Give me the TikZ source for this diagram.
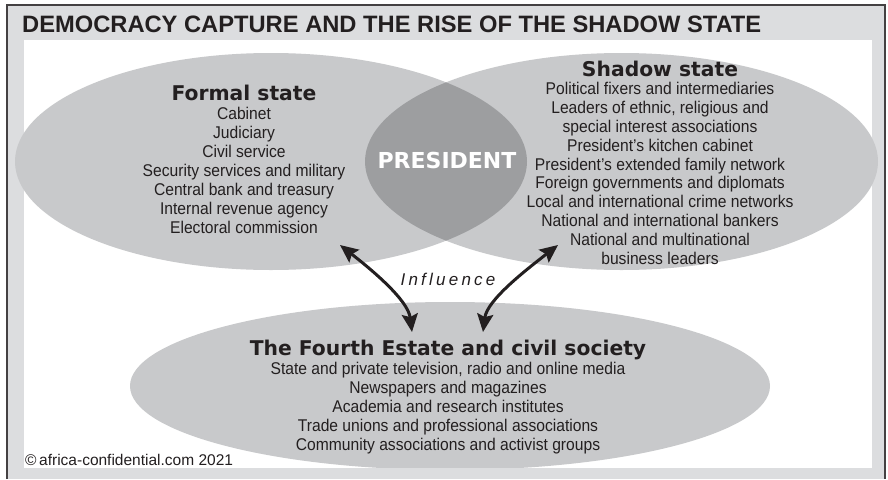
\documentclass[tikz,border=0pt]{standalone}
\usepackage{fontspec}
\setmainfont{Liberation Sans}
\newfontfamily\itemfont[FakeStretch=0.92]{Liberation Sans}
\newfontfamily\headfont{DejaVu Sans}
\newfontfamily\inflfont[LetterSpace=19]{Liberation Sans}
\usetikzlibrary{arrows.meta,positioning}
\definecolor{bandgray}{HTML}{DCDDDF}
\definecolor{blobgray}{HTML}{C8C9CB}
\definecolor{lensgray}{HTML}{9D9EA0}
\definecolor{ink}{HTML}{231F20}
\newcommand\headline[1]{{\headfont\bfseries\fontsize{20.3}{19}\selectfont #1}}
\begin{document}
\begin{tikzpicture}[
        x=1pt, y=-1pt,
        every node/.style={inner sep=0pt, text=ink},
        blob/.style={fill=blobgray},
        list/.style={align=center, anchor=north,
          font=\itemfont\fontsize{17}{19}\selectfont},
        influence/.style={line width=3pt, draw=ink,
          {Stealth[length=18pt,width=16pt,inset=3pt]}-{Stealth[length=18pt,width=16pt,inset=3pt]}}
      ]
      \useasboundingbox (0,0) rectangle (888,479);
      \fill[bandgray] (7,5) rectangle (885,479);
      \fill[white] (24,40) rectangle (872,468);

      \fill[blob] (271,161.5) ellipse [x radius=256, y radius=108.5];
      \fill[blob] (621.5,161.5) ellipse [x radius=256.5, y radius=108.5];
      \begin{scope}
        \clip (271,161.5) ellipse [x radius=256, y radius=108.5];
        \fill[lensgray] (621.5,161.5) ellipse [x radius=256.5, y radius=108.5];
      \end{scope}
      \fill[blob] (450,386) ellipse [x radius=320, y radius=84];
      \fill[bandgray] (7,468) rectangle (885,479);
      \draw[line width=1.2pt, ink!85] (7,479) |- (885,5) -- (885,479);

      \node[anchor=base west, font=\bfseries\fontsize{23.7}{28}\selectfont]
        (title) at (22,32) {DEMOCRACY CAPTURE AND THE RISE OF THE SHADOW STATE};

      \node[list] (formal) at (244,84.5) {\headline{Formal state}\\
        Cabinet\\ Judiciary\\ Civil service\\ Security services and military\\
        Central bank and treasury\\ Internal revenue agency\\ Electoral commission};
      \node[list, font=\itemfont\fontsize{17}{18.8}\selectfont] (shadow) at (660,60.5)
        {\headline{Shadow state}\\
        Political fixers and intermediaries\\ Leaders of ethnic, religious and\\
        special interest associations\\ President’s kitchen cabinet\\
        President’s extended family network\\ Foreign governments and diplomats\\
        Local and international crime networks\\ National and international bankers\\
        National and multinational\\ business leaders};
      \node[list] (fourth) at (448,339.5) {\headline{The Fourth Estate and civil society}\\
        State and private television, radio and online media\\ Newspapers and magazines\\
        Academia and research institutes\\ Trade unions and professional associations\\
        Community associations and activist groups};
      \node[anchor=base, text=white, font=\headfont\bfseries\fontsize{22}{22}\selectfont]
        (president) at (447,168) {PRESIDENT};
      \node[anchor=base, font=\inflfont\itshape\fontsize{17}{17}\selectfont]
        (infl) at (448,285) {Influence};
      \node[anchor=base west, font=\fontsize{15.5}{16}\selectfont]
        (credit) at (25,465) {©\,africa-confidential.com 2021};

      \coordinate (formal-end) at (340,245);
      \coordinate (shadow-end) at (558,245);
      \coordinate (fourth-left) at (412,332);
      \coordinate (fourth-right) at (483,332);
      \draw[influence] (formal-end) .. controls +(32,25) and +(-4,-32) .. (fourth-left);
      \draw[influence] (shadow-end) .. controls +(-32,25) and +(4,-32) .. (fourth-right);
\end{tikzpicture}
\end{document}
